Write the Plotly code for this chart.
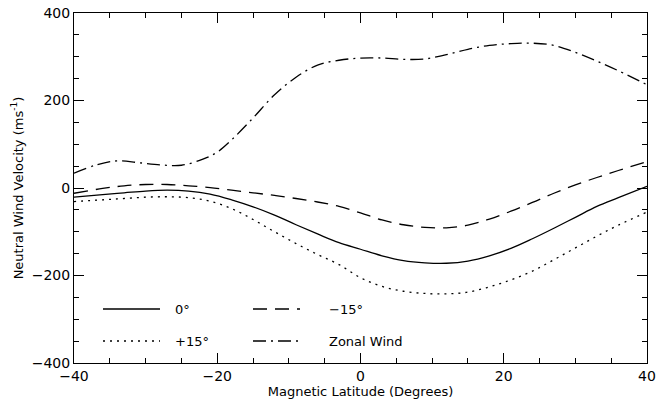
import plotly.graph_objects as go

# Magnetic latitude (degrees) sample points for each curve
lat_0 = [-40, -36, -33, -30, -27, -24, -21, -18, -15, -12, -9, -6, -3, 0, 3, 6, 9, 12, 15, 18, 21, 24, 27, 30, 33, 36, 40]
v_0 = [-21, -15, -11, -7, -5, -7, -14, -27, -43, -62, -84, -105, -125, -140, -155, -166, -171, -172, -167, -155, -138, -116, -92, -67, -42, -22, 4]

lat_p15 = [-40, -36, -33, -30, -27, -24, -21, -18, -15, -12, -9, -6, -3, 0, 3, 6, 9, 12, 15, 18, 21, 24, 27, 30, 33, 36, 40]
v_p15 = [-31, -27, -24, -21, -20, -22, -30, -47, -72, -100, -127, -152, -175, -205, -225, -236, -241, -242, -238, -226, -210, -190, -164, -137, -110, -85, -55]

lat_m15 = [-40, -36, -33, -30, -27, -24, -21, -18, -15, -12, -9, -6, -3, 0, 3, 6, 9, 12, 15, 18, 21, 24, 27, 30, 33, 36, 40]
v_m15 = [-12, -1, 5, 8, 8, 5, 1, -5, -11, -17, -24, -32, -42, -57, -73, -84, -90, -91, -85, -71, -53, -33, -12, 7, 24, 40, 60]

lat_z = [-40, -37, -34, -31, -28, -25, -22, -20, -18, -15, -12, -9, -6, -3, 0, 3, 6, 9, 12, 15, 18, 21, 24, 27, 30, 33, 36, 40]
v_z = [34, 52, 62, 58, 53, 52, 66, 82, 110, 160, 213, 253, 281, 292, 297, 297, 294, 295, 305, 317, 326, 330, 331, 326, 310, 290, 268, 236]

legend_names = ["0°", "−15°", "+15°", "Zonal Wind"]

x_ticks = [-40, -20, 0, 20, 40]
y_ticks = [-400, -200, 0, 200, 400]

FONT = "DejaVu Sans, Liberation Sans, sans-serif"
LW = 1.3

styles = {
    "0°": "solid",
    "+15°": "2px,5px",
    "−15°": "14px,8px",
    "Zonal Wind": "13px,5px,2px,5px",
}

fig = go.Figure()
series = [
    ("0°", lat_0, v_0),
    ("+15°", lat_p15, v_p15),
    ("−15°", lat_m15, v_m15),
    ("Zonal Wind", lat_z, v_z),
]
for name, xs, ys in series:
    fig.add_trace(go.Scatter(
        x=xs, y=ys, mode="lines", name=name, showlegend=False,
        line=dict(color="black", width=LW, shape="spline", smoothing=1.0, dash=styles[name]),
    ))

# Manual legend (two columns, two rows) in paper coordinates
plot_l, plot_r, plot_t, plot_b = 74, 647, 13, 363
W = plot_r - plot_l
H = plot_b - plot_t

def px_x(p):
    return (p - plot_l) / W

def px_y(p):
    return (plot_b - p) / H

legend_layout = [
    ("0°", 103, 160, 309, 173),
    ("−15°", 253, 300, 309, 327),
    ("+15°", 103, 160, 341, 173),
    ("Zonal Wind", 253, 300, 341, 327),
]
for name, x0, x1, yy, tx in legend_layout:
    fig.add_shape(type="line", xref="paper", yref="paper",
                  x0=px_x(x0), x1=px_x(x1), y0=px_y(yy), y1=px_y(yy),
                  line=dict(color="black", width=LW, dash=styles[name]))
    fig.add_annotation(xref="paper", yref="paper", x=px_x(tx), y=px_y(yy),
                       text=name, showarrow=False, xanchor="left", yanchor="middle",
                       font=dict(family=FONT, size=13, color="black"))

axis_common = dict(
    showgrid=False, zeroline=False, showline=True, linecolor="black", linewidth=1,
    mirror="allticks", ticks="inside", ticklen=10, tickwidth=1, tickcolor="black",
    tickfont=dict(family=FONT, size=14, color="black"),
)

fig.update_xaxes(
    range=[-40, 40], tickvals=x_ticks,
    minor=dict(dtick=5, ticks="inside", ticklen=5, tickcolor="black", tickwidth=1, showgrid=False),
    title=dict(text="Magnetic Latitude (Degrees)", font=dict(family=FONT, size=13, color="black"), standoff=2),
    **axis_common,
)
fig.update_yaxes(
    range=[-400, 400], tickvals=y_ticks,
    minor=dict(dtick=50, ticks="inside", ticklen=5, tickcolor="black", tickwidth=1, showgrid=False),
    title=dict(text="Neutral Wind Velocity (ms<sup>-1</sup>)", font=dict(family=FONT, size=13, color="black"), standoff=5),
    **axis_common,
)

fig.update_layout(
    width=656, height=403,
    margin=dict(l=74, r=656 - 647, t=13, b=403 - 363, autoexpand=False),
    paper_bgcolor="white", plot_bgcolor="white",
    font=dict(family=FONT, size=13, color="black"),
    showlegend=False,
)

fig.write_html("out.html", config={"displayModeBar": False},
               post_script="document.body.style.margin='0';document.body.style.overflow='hidden';")
